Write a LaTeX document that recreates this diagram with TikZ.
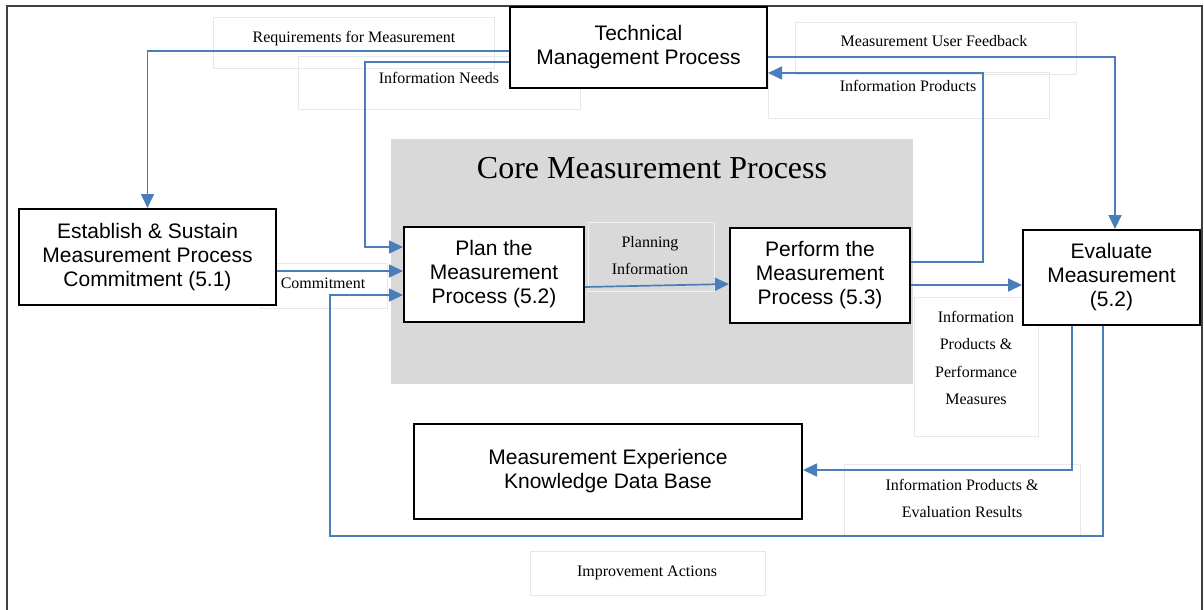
\documentclass[tikz,border=0pt]{standalone}
\usepackage{fontspec}
\setmainfont{Liberation Serif}
\newfontfamily\arialf{Liberation Sans}
\usetikzlibrary{arrows.meta}
\definecolor{flowblue}{HTML}{4A7EBB}
\definecolor{corefill}{HTML}{D9D9D9}
\definecolor{lblline}{HTML}{E8E8E8}
\definecolor{frameline}{HTML}{404040}
\begin{document}
\begin{tikzpicture}[x=1pt,y=-1pt,
  procbox/.style={draw=black, line width=2pt, fill=white, align=center, inner sep=0pt,
    font=\arialf\fontsize{21}{24}\selectfont},
  lblbox/.style={draw=lblline, line width=1pt, inner sep=0pt},
  lbltext/.style={font=\fontsize{16}{20}\selectfont, anchor=base, inner sep=0pt},
  flow/.style={draw=flowblue, line width=1.7pt, -{Triangle[length=14pt,width=13pt]}},
]
\useasboundingbox (0,0) rectangle (1204,610);
% outer frame
\draw[frameline, line width=1.6pt] (7,610) -- (7,6) -- (1202,6) -- (1202,610);
% core area
\node[fill=corefill, inner sep=0pt, minimum width=522pt, minimum height=245pt] (core) at (652,261.5) {};
\node[font=\fontsize{32}{32}\selectfont, anchor=base, inner sep=0pt] (coretitle) at (652,178) {Core Measurement Process};
% label boxes
\node[lblbox, minimum width=281pt, minimum height=51pt] (reqbox) at (353.5,43.5) {};
\node[lblbox, minimum width=282pt, minimum height=52pt] (needbox) at (439,83) {};
\node[lblbox, minimum width=281pt, minimum height=51pt] (fbbox) at (935.5,48.5) {};
\node[lblbox, minimum width=281pt, minimum height=46pt] (ipbox) at (908.5,95) {};
\node[lblbox, minimum width=127pt, minimum height=45pt] (commitbox) at (323.5,285.5) {};
\node[lblbox, draw=black!6, minimum width=126pt, minimum height=69pt] (planinfobox) at (651,256.5) {};
\node[lblbox, minimum width=124pt, minimum height=139pt] (ippmbox) at (976,366.5) {};
\node[lblbox, minimum width=236pt, minimum height=71pt] (iperbox) at (962,499.5) {};
\node[lblbox, minimum width=235pt, minimum height=44pt] (imprbox) at (647.5,573) {};
% label texts
\node[lbltext] (reqtxt) at (354,43) {Requirements for Measurement};
\node[lbltext] (needtxt) at (439,83) {Information Needs};
\node[lbltext] (fbtxt) at (934,47) {Measurement User Feedback};
\node[lbltext] (iptxt) at (908,92) {Information Products};
\node[lbltext] (committxt) at (323,288) {Commitment};
\node[lbltext] (planinfotxta) at (650,247) {Planning};
\node[lbltext] (planinfotxtb) at (650,274) {Information};
\node[lbltext] (ippmtxta) at (976,322) {Information};
\node[lbltext] (ippmtxtb) at (976,349) {Products \&};
\node[lbltext] (ippmtxtc) at (976,377) {Performance};
\node[lbltext] (ippmtxtd) at (976,404) {Measures};
\node[lbltext] (ipertxta) at (962,490) {Information Products \&};
\node[lbltext] (ipertxtb) at (962,517) {Evaluation Results};
\node[lbltext] (imprtxt) at (647,576) {Improvement Actions};
% process boxes
\node[procbox, minimum width=257pt, minimum height=81pt] (tmp) at (638.5,47.5) {Technical\\Management Process};
\node[procbox, minimum width=257pt, minimum height=96pt] (est) at (147.5,257) {Establish \& Sustain\\Measurement Process\\Commitment (5.1)};
\node[procbox, minimum width=180pt, minimum height=95pt] (plan) at (494,274.5) {Plan the\\Measurement\\Process (5.2)};
\node[procbox, minimum width=180pt, minimum height=95pt] (perf) at (820,275.5) {Perform the\\Measurement\\Process (5.3)};
\node[procbox, minimum width=177pt, minimum height=95pt] (eval) at (1111.5,277.5) {Evaluate\\Measurement\\(5.2)};
\node[procbox, minimum width=388pt, minimum height=95pt] (mekdb) at (608,471.5) {Measurement Experience\\Knowledge Data Base};
% connectors
\draw[flow] (tmp.west |- 0,51) -| (est.north);
\draw[flow] (tmp.west |- 0,62) -- (365,62) -- (365,247) -- (plan.west |- 0,247);
\draw[flow] (est.east |- 0,271) -- (plan.west |- 0,271);
\draw[flow] (plan.east |- 0,287) -- (perf.west |- 0,284);
\draw[flow] (perf.east |- 0,285) -- (eval.west |- 0,285);
\draw[flow] (perf.east |- 0,262) -- (983,262) -- (983,73) -- (tmp.east |- 0,73);
\draw[flow] (tmp.east |- 0,57) -- (1115,57) -- (1115,0 |- eval.north);
\draw[flow] (1072,0 |- eval.south) -- (1072,470) -- (mekdb.east |- 0,470);
\draw[flow] (1103,0 |- eval.south) -- (1103,536) -- (330,536) -- (330,295) -- (plan.west |- 0,295);
\end{tikzpicture}
\end{document}
